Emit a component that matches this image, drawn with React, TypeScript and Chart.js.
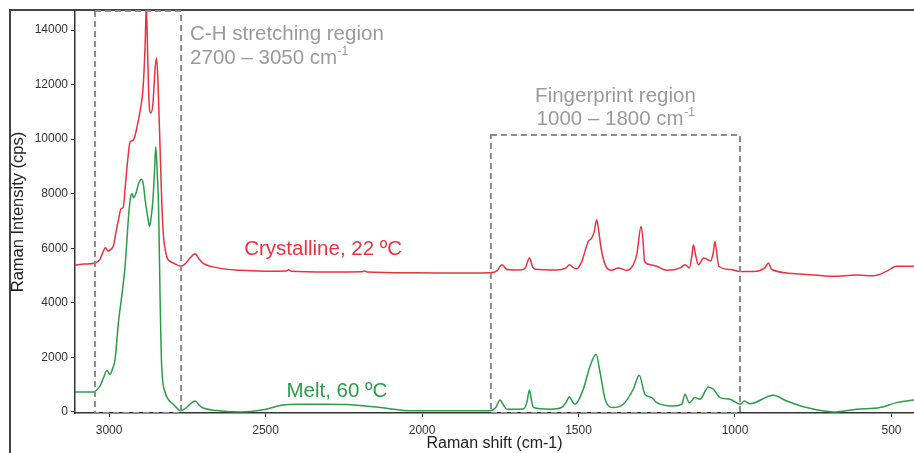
import { useEffect, useRef } from 'react';
import { Chart, registerables } from 'chart.js';

Chart.register(...registerables);

// Raman shift (cm-1) and intensity (cps)
const SHIFT_CRYSTALLINE = [
  3109, 3080, 3045, 3029, 3020, 3012, 3003, 2995, 2986, 2978, 2970, 2962, 2955, 2948, 2940, 2933,
  2924, 2918, 2908, 2900, 2892, 2888, 2885, 2881, 2877, 2873, 2867, 2860, 2853, 2848, 2843, 2837,
  2832, 2827, 2816, 2805, 2795, 2771, 2755, 2741, 2725, 2712, 2699, 2656, 2581, 2500, 2434, 2426,
  2418, 2300, 2192, 2184, 2176, 2029, 1850, 1783, 1760, 1745, 1730, 1719, 1687, 1670, 1657, 1646,
  1639, 1570, 1540, 1529, 1518, 1506, 1490, 1469, 1458, 1450, 1442, 1435, 1428, 1415, 1394, 1373,
  1346, 1325, 1314, 1300, 1294, 1289, 1271, 1250, 1218, 1175, 1159, 1146, 1138, 1133, 1125, 1117,
  1100, 1078, 1070, 1064, 1058, 1052, 1014, 984, 941, 904, 893, 883, 792, 686, 611, 558, 515, 484, 428,
];
const INTENSITY_CRYSTALLINE = [
  5380, 5420, 5460, 5600, 5850, 6020, 5900, 5960, 6100, 6600, 7050, 7450, 7500, 8300, 9300, 9900,
  9950, 10100, 10600, 11100, 11800, 12600, 13400, 14900, 13200, 11500, 10950, 11300, 12600, 12980, 11800, 9600,
  7800, 6560, 5700, 5520, 5460, 5340, 5450, 5650, 5800, 5600, 5450, 5290, 5190, 5160, 5170, 5210,
  5160, 5130, 5140, 5170, 5130, 5100, 5090, 5100, 5180, 5400, 5230, 5210, 5200, 5280, 5640, 5300,
  5230, 5200, 5280, 5400, 5300, 5250, 5500, 6250, 6375, 6600, 7045, 6600, 6010, 5400, 5190, 5280,
  5190, 5400, 5770, 6800, 6300, 5520, 5400, 5340, 5190, 5280, 5400, 5280, 5700, 6130, 5700, 5400,
  5645, 5540, 5800, 6250, 5800, 5340, 5220, 5150, 5150, 5290, 5460, 5220, 5060, 4970, 5020, 4990, 5160, 5340, 5340,
];
const SHIFT_MELT = [
  3109, 3080, 3050, 3040, 3029, 3018, 3007, 2997, 2990, 2981, 2970, 2959, 2949, 2943, 2938, 2931,
  2926, 2922, 2914, 2905, 2896, 2890, 2885, 2876, 2871, 2866, 2860, 2855, 2851, 2846, 2842, 2837,
  2832, 2821, 2808, 2795, 2771, 2752, 2740, 2725, 2712, 2704, 2656, 2580, 2508, 2444, 2400, 2300,
  2240, 2134, 2029, 1900, 1783, 1765, 1751, 1740, 1729, 1676, 1665, 1657, 1650, 1644, 1591, 1554,
  1540, 1529, 1520, 1511, 1485, 1463, 1444, 1431, 1415, 1389, 1357, 1325, 1306, 1288, 1266, 1250,
  1197, 1170, 1160, 1146, 1128, 1112, 1085, 1069, 1048, 1016, 984, 970, 952, 878, 835, 771, 686,
  611, 537, 484, 428,
];
const INTENSITY_MELT = [
  730, 730, 730, 800, 950, 1250, 1520, 1380, 1550, 1930, 3300, 4300, 5340, 6310, 7160, 7900,
  8000, 7850, 8030, 8400, 8530, 8300, 7780, 7100, 6800, 7100, 7780, 8800, 9725, 8700, 7530, 4120,
  1680, 720, 420, 280, 40, 170, 300, 400, 250, 170, 50, 0, 80, 250, 280, 280,
  270, 160, 40, 40, 40, 150, 440, 250, 100, 110, 350, 805, 400, 160, 100, 160,
  350, 560, 380, 280, 830, 1680, 2110, 1440, 465, 160, 280, 830, 1340, 650, 525, 340,
  220, 280, 650, 340, 525, 465, 915, 830, 525, 465, 280, 400, 300, 610, 400, 160, 0,
  100, 160, 340, 440,
];

const X_TICKS = [3000, 2500, 2000, 1500, 1000, 500];
const Y_TICKS = [0, 2000, 4000, 6000, 8000, 10000, 12000, 14000];
const SERIES_NAMES = ['Crystalline, 22 ºC', 'Melt, 60 ºC'];
const REGION_NAMES = ['C-H stretching region', 'Fingerprint region'];
const REGION_RANGES = ['2700 – 3050 cm', '1000 – 1800 cm'];
const REGION_FROM = [3045, 1780];
const REGION_TO = [2770, 984];
const REGION_TOP = [14700, 10150];

const FONT = '"Liberation Sans", Arial, Helvetica, sans-serif';
const RED = '#e8323e';
const GREEN = '#2a9d48';
const GRAY_TEXT = '#9a9a9a';
const LABEL_SIZE = 20.5;

function drawRange(ctx: CanvasRenderingContext2D, text: string, x: number, y: number, align: 'left' | 'center') {
  ctx.font = `${LABEL_SIZE}px ${FONT}`;
  const w1 = ctx.measureText(text).width;
  ctx.font = `12px ${FONT}`;
  const w2 = ctx.measureText('-1').width;
  const start = align === 'left' ? x : x - (w1 + w2) / 2;
  ctx.textAlign = 'left';
  ctx.textBaseline = 'middle';
  ctx.font = `${LABEL_SIZE}px ${FONT}`;
  ctx.fillText(text, start, y);
  ctx.font = `12px ${FONT}`;
  ctx.fillText('-1', start + w1 + 0.5, y - 6);
}

const overlayPlugin = {
  id: 'overlay',
  beforeDraw(chart: any) {
    const ctx = chart.ctx as CanvasRenderingContext2D;
    ctx.save();
    ctx.strokeStyle = '#444';
    ctx.lineWidth = 2;
    ctx.beginPath();
    ctx.moveTo(10, chart.height);
    ctx.lineTo(10, 10);
    ctx.lineTo(chart.width, 10);
    ctx.stroke();
    ctx.restore();
  },
  afterDatasetsDraw(chart: any) {
    const ctx = chart.ctx as CanvasRenderingContext2D;
    const xs = chart.scales.x;
    const ys = chart.scales.y;
    const bottom = chart.chartArea.bottom;
    ctx.save();
    ctx.setLineDash([6, 4]);
    ctx.strokeStyle = '#8c8c8c';
    ctx.lineWidth = 2;
    for (let i = 0; i < REGION_NAMES.length; i++) {
      const x1 = xs.getPixelForValue(REGION_FROM[i]);
      const x2 = xs.getPixelForValue(REGION_TO[i]);
      const y1 = ys.getPixelForValue(REGION_TOP[i]);
      ctx.strokeRect(x1, y1, x2 - x1, bottom - y1);
    }
    ctx.setLineDash([]);
    ctx.fillStyle = GRAY_TEXT;
    {
      const lx = xs.getPixelForValue(REGION_TO[0]) + 9;
      const ty = ys.getPixelForValue(REGION_TOP[0]);
      ctx.font = `${LABEL_SIZE}px ${FONT}`;
      ctx.textAlign = 'left';
      ctx.textBaseline = 'middle';
      ctx.fillText(REGION_NAMES[0], lx, ty + 23);
      drawRange(ctx, REGION_RANGES[0], lx, ty + 47, 'left');
    }
    {
      const cx = (xs.getPixelForValue(REGION_FROM[1]) + xs.getPixelForValue(REGION_TO[1])) / 2;
      const ty = ys.getPixelForValue(REGION_TOP[1]);
      ctx.font = `${LABEL_SIZE}px ${FONT}`;
      ctx.textAlign = 'center';
      ctx.textBaseline = 'middle';
      ctx.fillText(REGION_NAMES[1], cx, ty - 39);
      drawRange(ctx, REGION_RANGES[1], cx, ty - 16, 'center');
    }
    ctx.font = `${LABEL_SIZE}px ${FONT}`;
    ctx.textAlign = 'center';
    ctx.textBaseline = 'middle';
    ctx.fillStyle = RED;
    ctx.fillText(SERIES_NAMES[0], xs.getPixelForValue(2316), ys.getPixelForValue(5950));
    ctx.fillStyle = GREEN;
    ctx.fillText(SERIES_NAMES[1], xs.getPixelForValue(2272), ys.getPixelForValue(757));
    ctx.restore();
  },
};

export default function App() {
  const ref = useRef<HTMLCanvasElement | null>(null);
  useEffect(() => {
    if (!ref.current) return;
    const chart = new Chart(ref.current, {
      type: 'line',
      data: {
        datasets: [
          {
            label: SERIES_NAMES[0],
            data: SHIFT_CRYSTALLINE.map((s, i) => ({ x: s, y: INTENSITY_CRYSTALLINE[i] })),
            borderColor: RED,
            backgroundColor: RED,
          },
          {
            label: SERIES_NAMES[1],
            data: SHIFT_MELT.map((s, i) => ({ x: s, y: INTENSITY_MELT[i] })),
            borderColor: GREEN,
            backgroundColor: GREEN,
          },
        ],
      },
      options: {
        animation: false,
        responsive: false,
        devicePixelRatio: 1,
        layout: { padding: { top: 11, right: 0, bottom: 0, left: 0 } },
        plugins: { legend: { display: false }, tooltip: { enabled: false } },
        elements: {
          point: { radius: 0 },
          line: { borderWidth: 1.5, cubicInterpolationMode: 'monotone' },
        },
        scales: {
          x: {
            type: 'linear',
            reverse: true,
            min: 428,
            max: 3109,
            afterFit: (s: any) => { s.height = 40; },
            afterBuildTicks: (s: any) => { s.ticks = X_TICKS.map((v) => ({ value: v })); },
            grid: { drawOnChartArea: false, drawTicks: true, tickLength: 4, color: '#333', lineWidth: 1 },
            border: { display: true, color: '#333', width: 1.5 },
            ticks: { color: '#333', font: { family: FONT, size: 12 }, padding: 6, maxRotation: 0, autoSkip: false, callback: (v: any) => String(v) },
            title: { display: true, text: 'Raman shift (cm-1)', color: '#222', font: { family: FONT, size: 16 }, padding: { top: 0, bottom: 0 } },
          },
          y: {
            type: 'linear',
            min: -40,
            max: 14700,
            afterFit: (s: any) => { s.width = 75; },
            afterBuildTicks: (s: any) => { s.ticks = Y_TICKS.map((v) => ({ value: v })); },
            grid: { drawOnChartArea: false, drawTicks: true, tickLength: 4, color: '#333', lineWidth: 1 },
            border: { display: true, color: '#333', width: 1.5 },
            ticks: { color: '#333', font: { family: FONT, size: 12 }, padding: 3, autoSkip: false, callback: (v: any) => String(v) },
            title: { display: true, text: 'Raman Intensity (cps)', color: '#222', font: { family: FONT, size: 16.5 }, padding: { top: 9, bottom: 0 } },
          },
        },
      },
      plugins: [overlayPlugin],
    } as any);
    return () => chart.destroy();
  }, []);
  return (
    <div style={{ position: 'fixed', left: 0, top: 0, width: 914, height: 453, background: '#fff' }}>
      <canvas ref={ref} width={914} height={453} style={{ display: 'block', width: 914, height: 453 }} />
    </div>
  );
}
